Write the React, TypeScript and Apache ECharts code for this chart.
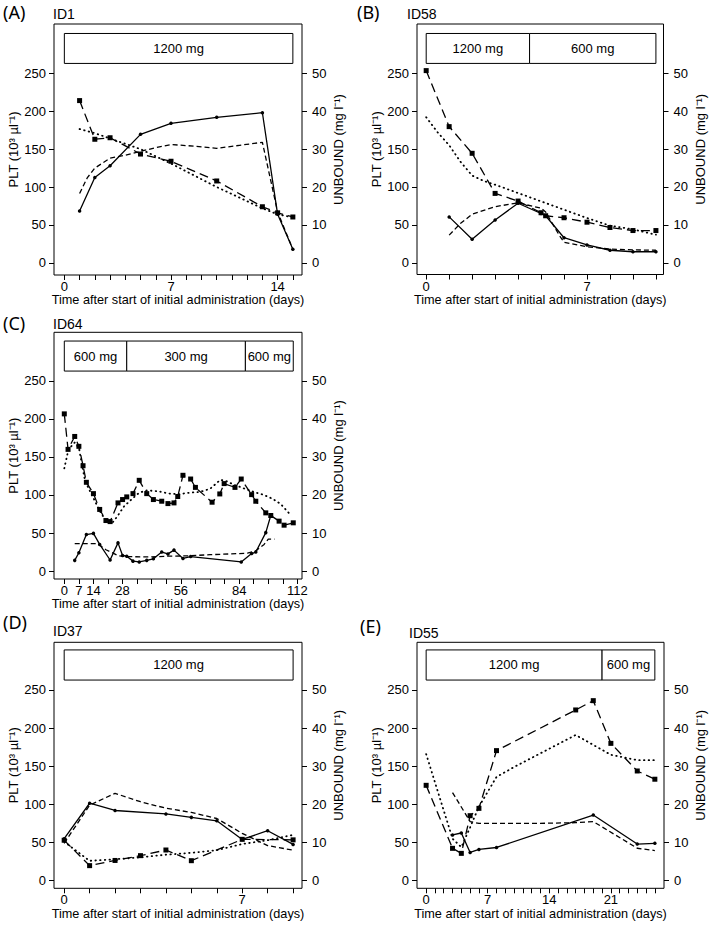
import React, { useEffect, useRef } from "react";
import * as echarts from "echarts";

// ---------- Panel A (ID1) ----------
const A_pltDays = [1, 2, 3, 5, 7, 10, 13, 14, 15];
const A_plt = [214, 163, 165, 143.5, 134, 108, 74, 66, 60.5];
const A_unbDays = [1, 2, 3, 5, 7, 10, 13, 14, 15];
const A_unbound = [13.7, 22.5, 25.6, 33.9, 36.8, 38.4, 39.6, 12.8, 3.6];
const A_pltPredDays = [1, 2, 3, 5, 7, 10, 13, 14, 15];
const A_pltPred = [176.5, 171, 164, 150, 131, 100, 72, 64, 60];
const A_unbPredDays = [1, 1.5, 2, 3, 4, 5, 6, 7, 8.5, 10, 11.5, 13, 14, 15];
const A_unbPred = [18.3, 22.4, 25, 27.6, 28.4, 29.4, 30.4, 31.2, 30.8, 30.2, 31, 31.8, 13.4, 3.6];
const A_doseStart = [0];
const A_doseEnd = [15];
const A_doseLabel = ["1200 mg"];

// ---------- Panel B (ID58) ----------
const B_pltDays = [0, 1, 2, 3, 4, 5, 5.2, 6, 7, 8, 9, 10];
const B_plt = [253.5, 179.6, 144.4, 91.5, 81.4, 66, 62, 59.4, 53.5, 46.5, 42.5, 42.5];
const B_unbDays = [1, 2, 3, 4, 5, 5.2, 6, 7, 8, 9, 10];
const B_unbound = [12.1, 6.2, 11.3, 15.7, 13, 12.4, 6.6, 4.7, 3.3, 2.9, 2.9];
const B_pltPredDays = [0, 0.5, 1, 1.5, 2, 2.5, 3, 4, 5, 6, 7, 8, 9, 10];
const B_pltPred = [192, 172, 155, 133, 115, 108, 103, 92, 81, 70, 59, 49, 44, 37];
const B_unbPredDays = [1, 1.5, 2, 3, 4, 5, 5.2, 5.8, 6, 7, 8, 9, 10];
const B_unbPred = [7.3, 10.4, 12.8, 14.8, 15.8, 14.4, 13.4, 7.2, 5.4, 4.2, 3.6, 3.4, 3.3];
const B_doseStart = [0, 4.5];
const B_doseEnd = [4.5, 10];
const B_doseLabel = ["1200 mg", "600 mg"];

// ---------- Panel C (ID64) ----------
const C_pltDays = [0, 1.8, 5, 7, 9, 10.6, 14, 17, 20, 22, 25.8, 28, 30, 33, 36, 39.6, 42.8, 46.8, 49.8, 52.7, 54.5, 57, 60.7, 63, 71, 74.7, 76.8, 82, 85, 90, 92, 96.8, 99.2, 103.2, 105.6, 110];
const C_plt = [206.7, 160, 177, 164, 138.5, 116.7, 101.8, 81, 66.4, 65, 89.6, 94, 97.5, 101.8, 119.3, 101.8, 94, 91.8, 88.7, 89.6, 98, 125.9, 121, 110, 90.5, 101.4, 115, 110, 121, 100.5, 91.8, 76.5, 73, 65.6, 60.3, 63.4];
const C_unbDays = [5, 7, 10.6, 14, 17, 22, 25.8, 28, 30, 33, 36, 39.6, 42.8, 46.8, 49.8, 52.7, 57, 60.7, 85, 90, 92, 96.8, 99.2];
const C_unbound = [2.8, 4.8, 9.6, 9.9, 7, 2.9, 7.4, 4.1, 3.9, 2.6, 2.4, 2.8, 3.2, 5, 4.5, 5.5, 3.3, 3.8, 2.4, 4.6, 5, 10.1, 14.6];
const C_pltPredDays = [0, 2, 5, 7, 10, 14, 17, 20, 23, 25.5, 28.7, 33, 36, 39.6, 45, 50, 55, 60, 65, 70, 75, 78, 82, 87, 91, 96, 100, 104, 108];
const C_pltPred = [135, 160, 169, 162, 118, 96, 79, 66, 63, 72, 85, 96, 103, 106, 105, 102, 101, 103, 104, 108, 120, 118, 113, 108, 104, 100, 95, 88, 76];
const C_unbPredDays = [5, 16, 20, 26, 30, 40, 50, 60, 70, 80, 88, 92, 96, 98, 101];
const C_unbPred = [7.2, 7.2, 5.6, 4, 3.8, 3.7, 3.9, 4, 4.3, 4.5, 4.7, 5.3, 7, 8.4, 8.4];
const C_doseStart = [0, 30, 87];
const C_doseEnd = [30, 87, 110];
const C_doseLabel = ["600 mg", "300 mg", "600 mg"];

// ---------- Panel D (ID37) ----------
const D_pltDays = [0, 1, 2, 3, 4, 5, 7, 9];
const D_plt = [53, 19.7, 26.5, 32.8, 40.2, 26.2, 54.2, 53.5];
const D_unbDays = [0, 1, 2, 4, 5, 6, 7, 8, 9];
const D_unbound = [11, 20.3, 18.4, 17.5, 16.6, 15.7, 10.8, 13.1, 9.5];
const D_pltPredDays = [0, 1, 2, 3, 4, 5, 6, 7, 8, 9];
const D_pltPred = [51, 26, 28, 30.6, 34, 36.5, 40, 48, 53, 60];
const D_unbPredDays = [0, 1, 2, 3, 4, 5, 6, 7, 8, 9];
const D_unbPred = [9.8, 19.8, 22.9, 20.7, 19, 17.9, 16.3, 12.4, 9.2, 8];
const D_doseStart = [0];
const D_doseEnd = [9];
const D_doseLabel = ["1200 mg"];

// ---------- Panel E (ID55) ----------
const E_pltDays = [0, 3, 4, 5, 6, 8, 17, 19, 21, 24, 26];
const E_plt = [125, 42.4, 35.8, 85.2, 94.8, 170.5, 223.8, 236, 180, 143.8, 133];
const E_unbDays = [3, 4, 5, 6, 8, 19, 24, 26];
const E_unbound = [12, 12.5, 7.4, 8.2, 8.7, 17.2, 9.6, 9.8];
const E_pltPredDays = [0, 3, 4, 5, 6, 8, 10, 14, 17, 19, 21, 24, 26];
const E_pltPred = [166, 55, 44, 70, 97, 136, 149, 173, 191, 178, 165, 158, 158];
const E_unbPredDays = [3, 5, 6, 12, 17, 19, 24, 26];
const E_unbPred = [23.1, 15.5, 15, 15, 15.2, 15.5, 8.5, 7.9];
const E_doseStart = [0, 20];
const E_doseEnd = [20, 26];
const E_doseLabel = ["1200 mg", "600 mg"];

// ---------- Axis ticks / labels ----------
const PLT_TICKS = [0, 50, 100, 150, 200, 250];
const UNB_TICKS = [0, 10, 20, 30, 40, 50];
const seq = (a: number, b: number, s = 1) => {
  const r: number[] = [];
  for (let v = a; v <= b + 1e-9; v += s) r.push(v);
  return r;
};
const A_xTicks = seq(0, 15);
const A_xLabels = [0, 7, 14];
const B_xTicks = seq(0, 10);
const B_xLabels = [0, 7];
const C_xTicks = seq(0, 112, 7);
const C_xLabels = [0, 7, 14, 28, 56, 84, 112];
const D_xTicks = seq(0, 9);
const D_xLabels = [0, 7];
const E_xTicks = seq(0, 26);
const E_xLabels = [0, 7, 14, 21];

const X_TITLE = "Time after start of initial administration (days)";
const Y_LEFT_TITLE = "PLT (10³ µl⁻¹)";
const Y_RIGHT_TITLE = "UNBOUND (mg l⁻¹)";
const UNIT_RATIO = 5; // 50 mg/l on right axis aligns with 250 on left axis
const DOSE_LOW = 263;
const DOSE_HIGH = 302.5;

const FONT = '"Liberation Sans", Arial, Helvetica, sans-serif';
const TAG_FONT = '"Noto Sans", "Open Sans", sans-serif';

type Panel = {
  tag: string;
  id: string;
  pltDays: number[]; plt: number[];
  unbDays: number[]; unbound: number[];
  pltPredDays: number[]; pltPred: number[];
  unbPredDays: number[]; unbPred: number[];
  doseStart: number[]; doseEnd: number[]; doseLabel: string[];
  xTicks: number[]; xLabels: number[];
  lay: any;
};

const PANELS: Panel[] = [
  {
    tag: "(A)", id: "ID1",
    pltDays: A_pltDays, plt: A_plt, unbDays: A_unbDays, unbound: A_unbound,
    pltPredDays: A_pltPredDays, pltPred: A_pltPred, unbPredDays: A_unbPredDays, unbPred: A_unbPred,
    doseStart: A_doseStart, doseEnd: A_doseEnd, doseLabel: A_doseLabel,
    xTicks: A_xTicks, xLabels: A_xLabels,
    lay: { left: 54, top: 24, width: 248, height: 251, xMin: -0.68, xMax: 15.6, yMin: -16, yMax: 315, tagX: 3, tagY: 12, idX: 53, idY: 14 },
  },
  {
    tag: "(B)", id: "ID58",
    pltDays: B_pltDays, plt: B_plt, unbDays: B_unbDays, unbound: B_unbound,
    pltPredDays: B_pltPredDays, pltPred: B_pltPred, unbPredDays: B_unbPredDays, unbPred: B_unbPred,
    doseStart: B_doseStart, doseEnd: B_doseEnd, doseLabel: B_doseLabel,
    xTicks: B_xTicks, xLabels: B_xLabels,
    lay: { left: 417, top: 24, width: 246.5, height: 250.5, xMin: -0.4, xMax: 10.33, yMin: -15.5, yMax: 315, tagX: 357, tagY: 12, idX: 407, idY: 14 },
  },
  {
    tag: "(C)", id: "ID64",
    pltDays: C_pltDays, plt: C_plt, unbDays: C_unbDays, unbound: C_unbound,
    pltPredDays: C_pltPredDays, pltPred: C_pltPred, unbPredDays: C_unbPredDays, unbPred: C_unbPred,
    doseStart: C_doseStart, doseEnd: C_doseEnd, doseLabel: C_doseLabel,
    xTicks: C_xTicks, xLabels: C_xLabels,
    lay: { left: 54, top: 332.3, width: 248, height: 246.7, xMin: -4.95, xMax: 114.2, yMin: -10.5, yMax: 314, tagX: 3, tagY: 323, idX: 53, idY: 324 },
  },
  {
    tag: "(D)", id: "ID37",
    pltDays: D_pltDays, plt: D_plt, unbDays: D_unbDays, unbound: D_unbound,
    pltPredDays: D_pltPredDays, pltPred: D_pltPred, unbPredDays: D_unbPredDays, unbPred: D_unbPred,
    doseStart: D_doseStart, doseEnd: D_doseEnd, doseLabel: D_doseLabel,
    xTicks: D_xTicks, xLabels: D_xLabels,
    lay: { left: 54, top: 642.3, width: 248, height: 246, xMin: -0.4, xMax: 9.35, yMin: -10, yMax: 312.5, tagX: 3, tagY: 622, idX: 53, idY: 631 },
  },
  {
    tag: "(E)", id: "ID55",
    pltDays: E_pltDays, plt: E_plt, unbDays: E_unbDays, unbound: E_unbound,
    pltPredDays: E_pltPredDays, pltPred: E_pltPred, unbPredDays: E_unbPredDays, unbPred: E_unbPred,
    doseStart: E_doseStart, doseEnd: E_doseEnd, doseLabel: E_doseLabel,
    xTicks: E_xTicks, xLabels: E_xLabels,
    lay: { left: 417, top: 642.3, width: 247, height: 246, xMin: -1.04, xMax: 27.04, yMin: -10, yMax: 312.5, tagX: 360, tagY: 626, idX: 409, idY: 633 },
  },
];

const zip = (xs: number[], ys: number[]) => xs.map((x, i) => [x, ys[i]]);

function buildOption() {
  const grid: any[] = [];
  const xAxis: any[] = [];
  const yAxis: any[] = [];
  const series: any[] = [];
  const graphic: any[] = [];

  const tickStyle = { color: "#000", width: 1 };
  const labelStyle = { color: "#000", fontSize: 13, fontFamily: FONT };
  const nameStyle = { color: "#000", fontSize: 13, fontFamily: FONT };

  PANELS.forEach((p, i) => {
    const L = p.lay;
    grid.push({
      left: L.left, top: L.top, width: L.width, height: L.height,
      show: true, borderColor: "#000", borderWidth: 1, backgroundColor: "transparent",
      containLabel: false,
    });
    xAxis.push({
      type: "value", gridIndex: i, min: L.xMin, max: L.xMax,
      axisLine: { show: false, onZero: false },
      axisTick: { show: true, inside: false, length: 5, lineStyle: tickStyle, customValues: p.xTicks },
      axisLabel: { ...labelStyle, margin: 5, customValues: p.xLabels },
      splitLine: { show: false },
      name: X_TITLE, nameLocation: "middle", nameGap: 18,
      nameTextStyle: { ...nameStyle, fontSize: 12.7 },
    });
    yAxis.push({
      type: "value", gridIndex: i, position: "left", min: L.yMin, max: L.yMax,
      axisLine: { show: false, onZero: false },
      axisTick: { show: true, inside: false, length: 5, lineStyle: tickStyle, customValues: PLT_TICKS },
      axisLabel: { ...labelStyle, margin: 8, customValues: PLT_TICKS },
      splitLine: { show: false },
      name: Y_LEFT_TITLE, nameLocation: "middle", nameGap: 34, nameRotate: 90, nameTextStyle: nameStyle,
    });
    yAxis.push({
      type: "value", gridIndex: i, position: "right",
      min: L.yMin / UNIT_RATIO, max: L.yMax / UNIT_RATIO,
      axisLine: { show: false, onZero: false },
      axisTick: { show: true, inside: false, length: 5, lineStyle: tickStyle, customValues: UNB_TICKS },
      axisLabel: { ...labelStyle, margin: 10, customValues: UNB_TICKS },
      splitLine: { show: false },
      name: Y_RIGHT_TITLE, nameLocation: "middle", nameGap: 30, nameRotate: 90, nameTextStyle: nameStyle,
    });

    const li = i * 2;
    const ri = i * 2 + 1;

    // dose regimen boxes
    const labels = p.doseLabel;
    series.push({
      type: "custom", name: "dose-" + p.id, xAxisIndex: i, yAxisIndex: li,
      data: p.doseStart.map((s, k) => [s, p.doseEnd[k]]),
      encode: { x: [0, 1] },
      silent: true, z: 5,
      renderItem: (params: any, api: any) => {
        const a = api.coord([api.value(0), DOSE_HIGH]);
        const b = api.coord([api.value(1), DOSE_LOW]);
        return {
          type: "group",
          children: [
            {
              type: "rect",
              shape: { x: a[0], y: a[1], width: b[0] - a[0], height: b[1] - a[1] },
              style: { fill: "#fff", stroke: "#000", lineWidth: 1 },
            },
            {
              type: "text",
              x: (a[0] + b[0]) / 2, y: (a[1] + b[1]) / 2,
              style: {
                text: labels[params.dataIndex], fill: "#000",
                fontSize: 13, fontFamily: FONT, align: "center", verticalAlign: "middle",
              },
            },
          ],
        };
      },
    });

    // PLT predicted (dotted)
    series.push({
      type: "line", name: "PLT pred " + p.id, xAxisIndex: i, yAxisIndex: li,
      data: zip(p.pltPredDays, p.pltPred), symbol: "none",
      lineStyle: { color: "#000", width: 1.8, type: [0.5, 4.2], cap: "round" },
      z: 2,
    });
    // UNBOUND predicted (short dash)
    series.push({
      type: "line", name: "UNBOUND pred " + p.id, xAxisIndex: i, yAxisIndex: ri,
      data: zip(p.unbPredDays, p.unbPred), symbol: "none",
      lineStyle: { color: "#000", width: 1.3, type: [5, 3] },
      z: 2,
    });
    // PLT observed (long dash + squares)
    series.push({
      type: "line", name: "PLT " + p.id, xAxisIndex: i, yAxisIndex: li,
      data: zip(p.pltDays, p.plt), symbol: "rect", symbolSize: 5, showSymbol: true,
      itemStyle: { color: "#000" },
      lineStyle: { color: "#000", width: 1.3, type: [9, 5] },
      z: 3,
    });
    // UNBOUND observed (solid + dots)
    series.push({
      type: "line", name: "UNBOUND " + p.id, xAxisIndex: i, yAxisIndex: ri,
      data: zip(p.unbDays, p.unbound), symbol: "circle", symbolSize: 3.5, showSymbol: true,
      itemStyle: { color: "#000" },
      lineStyle: { color: "#000", width: 1.3, type: "solid" },
      z: 3,
    });

    graphic.push({
      type: "text", x: L.tagX, y: L.tagY,
      style: { text: p.tag, fill: "#000", fontSize: 18, fontFamily: TAG_FONT, verticalAlign: "middle" },
    });
    graphic.push({
      type: "text", x: L.idX, y: L.idY,
      style: { text: p.id, fill: "#000", fontSize: 14, fontFamily: FONT, verticalAlign: "middle" },
    });
  });

  return {
    animation: false,
    backgroundColor: "#fff",
    grid, xAxis, yAxis, series, graphic,
  };
}

export default function App() {
  const ref = useRef<HTMLDivElement>(null);
  useEffect(() => {
    if (!ref.current) return;
    const chart = echarts.init(ref.current, undefined, { renderer: "svg" });
    chart.setOption(buildOption() as any);
    return () => chart.dispose();
  }, []);
  return (
    <div
      ref={ref}
      style={{ position: "absolute", left: 0, top: 0, width: 709, height: 928, background: "#fff" }}
    />
  );
}
